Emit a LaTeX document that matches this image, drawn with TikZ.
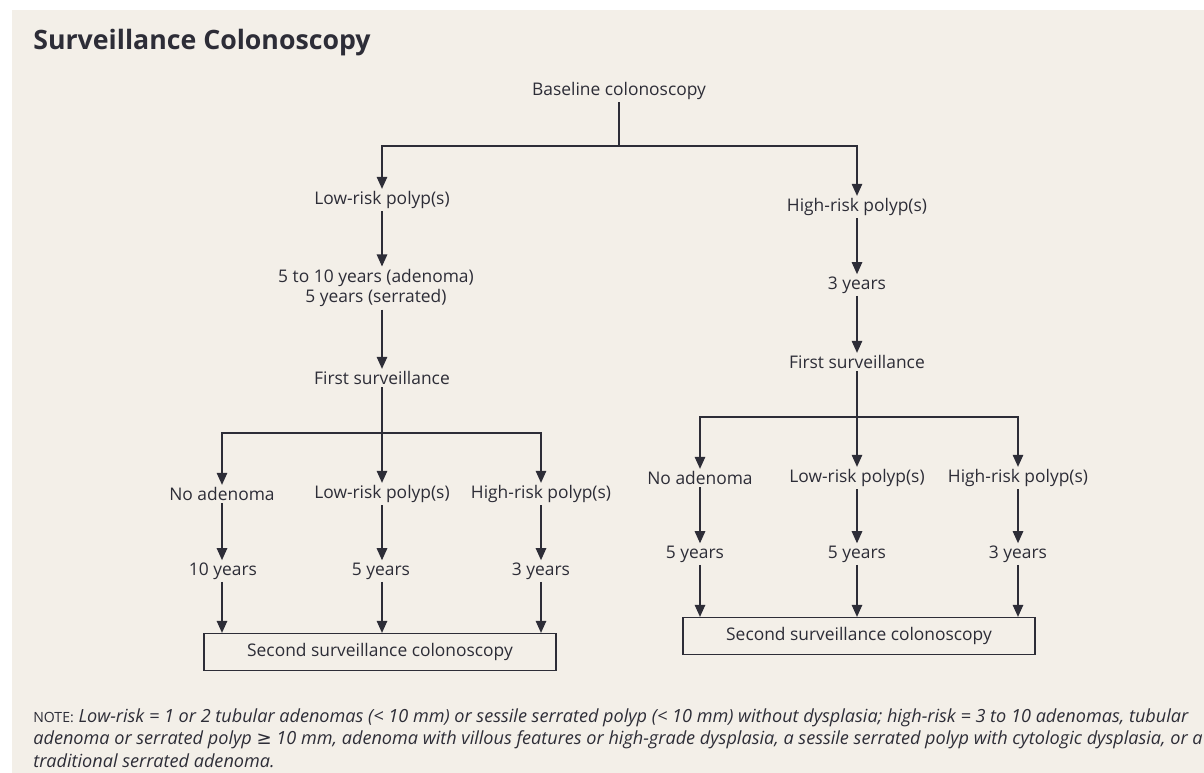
\documentclass[tikz,border=0pt]{standalone}
\usepackage{fontspec}
\setmainfont{Open Sans}
\newfontfamily\symfont{DejaVu Sans}
\usepackage{tikz}
\usetikzlibrary{arrows.meta, positioning}

\definecolor{paper}{RGB}{243,239,232}
\definecolor{ink}{RGB}{45,45,55}

\begin{document}
\begin{tikzpicture}[
  x=0.02cm, y=-0.02cm,
  lbl/.style={inner sep=1.2pt, text=ink, font=\fontsize{9.9}{11.8}\selectfont},
  endbox/.style={lbl, draw=ink, line width=0.7pt,
    minimum width=7.04cm, minimum height=0.74cm},
  conn/.style={draw=ink, line width=0.7pt},
  arr/.style={conn, -{Triangle[length=2.4mm, width=2.1mm]}}
]
  % paper
  \fill[white] (0,0) rectangle (1204,773);
  \fill[paper] (12,10) rectangle (1204,773);
  \useasboundingbox (0,0) rectangle (1204,773);

  % Title
  \node[anchor=base west, inner sep=0pt, text=ink,
    font=\fontsize{15.2}{18}\selectfont\bfseries] (title) at (33,50)
    {Surveillance Colonoscopy};

  % Top
  \node[lbl] (base) at (619,91) {Baseline colonoscopy};
  \coordinate (j0) at (619,146);

  % Low-risk column
  \node[lbl] (lr1) at (382,200) {Low-risk polyp(s)};
  \node[lbl, align=center] (yr1) at (376,288)
    {5 to 10 years (adenoma)\\5 years (serrated)};
  \node[lbl] (fs1) at (382,378) {First surveillance};
  \coordinate (j1) at (382,433);

  \node[lbl] (na1) at (222,494) {No adenoma};
  \node[lbl] (lp1) at (382,494) {Low-risk polyp(s)};
  \node[lbl] (hp1) at (541,494) {High-risk polyp(s)};
  \node[lbl] (ya1) at (223,571) {10 years};
  \node[lbl] (yb1) at (381,571) {5 years};
  \node[lbl] (yc1) at (541,571) {3 years};
  \node[endbox] (sb1) at (380,652) {Second surveillance colonoscopy};

  % High-risk column
  \node[lbl] (hr1) at (857,207) {High-risk polyp(s)};
  \node[lbl] (yr2) at (857,285) {3 years};
  \node[lbl] (fs2) at (857,362) {First surveillance};
  \coordinate (j2) at (857,417);

  \node[lbl] (na2) at (700,478) {No adenoma};
  \node[lbl] (lp2) at (857,478) {Low-risk polyp(s)};
  \node[lbl] (hp2) at (1018,478) {High-risk polyp(s)};
  \node[lbl] (ya2) at (695,554) {5 years};
  \node[lbl] (yb2) at (857,554) {5 years};
  \node[lbl] (yc2) at (1018,554) {3 years};
  \node[endbox] (sb2) at (859,636) {Second surveillance colonoscopy};

  % Connections
  \draw[conn] (base) -- (j0);
  \draw[arr] (j0) -| (lr1);
  \draw[arr] (j0) -| (hr1);
  \draw[arr] (lr1) -- (lr1 |- yr1.north);
  \draw[arr] (lr1 |- yr1.south) -- (fs1);
  \draw[arr] (hr1) -- (yr2);
  \draw[arr] (yr2) -- (fs2);

  \draw[conn] (fs1) -- (j1);
  \draw[conn] (fs2) -- (j2);
  \foreach \t/\y in {na1/ya1, lp1/yb1, hp1/yc1} {
    \draw[arr] (j1) -| (\t);
    \draw[arr] (\t.south) -- (\t.south |- \y.north);
    \draw[arr] (\t.south |- \y.south) -- (\t.south |- sb1.north);
  }
  \foreach \t/\y in {na2/ya2, lp2/yb2, hp2/yc2} {
    \draw[arr] (j2) -| (\t);
    \draw[arr] (\t.south) -- (\t.south |- \y.north);
    \draw[arr] (\t.south |- \y.south) -- (\t.south |- sb2.north);
  }

  % Note
  \node[anchor=north west, inner sep=0pt, text=ink, align=left,
    font=\fontsize{10.3}{12.8}\selectfont] (note) at (33,708)
    {{\fontsize{8}{12.8}\selectfont NOTE:} \itshape Low-risk = 1 or 2 tubular adenomas (< 10 mm) or sessile serrated polyp (< 10 mm) without dysplasia; high-risk = 3 to 10 adenomas, tubular\\
    \itshape adenoma or serrated polyp {\symfont ≥} 10 mm, adenoma with villous features or high-grade dysplasia, a sessile serrated polyp with cytologic dysplasia, or a\\
    \itshape traditional serrated adenoma.};
\end{tikzpicture}
\end{document}
